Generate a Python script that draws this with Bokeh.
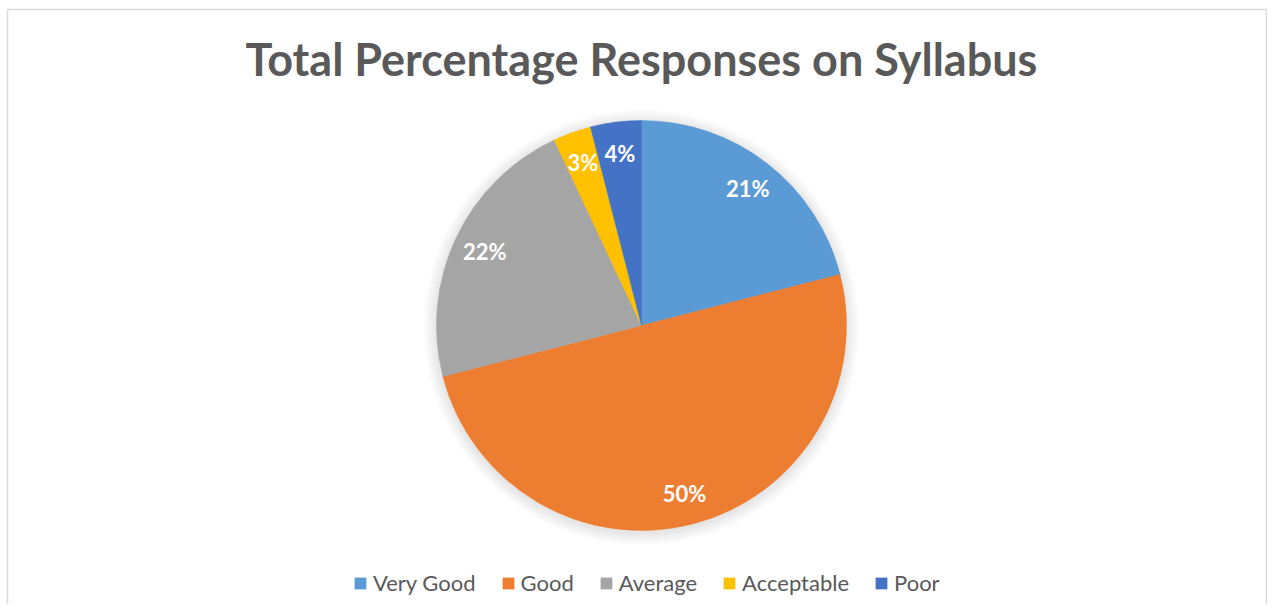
import math
from bokeh.plotting import figure
from bokeh.models import Legend, LegendItem, Range1d, ColumnDataSource
from bokeh.core.properties import value
from bokeh.embed import file_html
from bokeh.resources import INLINE

# ---- data ----
title_text = "Total Percentage Responses on Syllabus"
categories = ["Very Good", "Good", "Average", "Acceptable", "Poor"]
percentages = [21, 50, 22, 3, 4]
colors = ["#5B9BD5", "#ED7D31", "#A5A5A5", "#FFC000", "#4472C4"]

# ---- layout (pixel-like data units) ----
W, H = 1267, 604
CX, CY, R = 641, H - 325, 205
FONT = "Lato"

p = figure(width=W, height=H, output_backend="svg", toolbar_location=None,
           x_range=Range1d(0, W), y_range=Range1d(0, H),
           min_border=0, outline_line_color=None)
p.axis.visible = False
p.grid.visible = False
p.background_fill_color = "white"
p.border_fill_color = "white"

# chart frame
p.quad(left=[7], right=[W - 1], top=[H - 9], bottom=[-20],
       fill_color=None, line_color="#d9d9d9", line_width=1.5)

# soft shadow around pie
for i in range(1, 14):
    p.circle(x=[CX], y=[CY - 2], radius=R + i, fill_color="black",
             fill_alpha=0.009, line_color=None)

total = float(sum(percentages))
starts, ends, mids = [], [], []
cum = 0.0
for v in percentages:
    f0 = cum / total
    f1 = (cum + v) / total
    starts.append(math.pi / 2 - f0 * 2 * math.pi)
    ends.append(math.pi / 2 - f1 * 2 * math.pi)
    mids.append(math.pi / 2 - (f0 + f1) / 2 * 2 * math.pi)
    cum += v

renderers = []
for i, cat in enumerate(categories):
    r = p.wedge(x=CX, y=CY, radius=R, start_angle=starts[i], end_angle=ends[i],
                direction="clock", fill_color=colors[i], line_color=colors[i],
                line_width=0.5)
    renderers.append(r)

lab_r = 0.845 * R
src = ColumnDataSource(dict(
    x=[CX + lab_r * math.cos(a) for a in mids],
    y=[CY + lab_r * math.sin(a) for a in mids],
    t=["%d%%" % v for v in percentages],
))
p.text(x="x", y="y", text="t", source=src, text_color="white",
       text_font=value(FONT), text_font_style="bold", text_font_size="22px",
       text_align="center", text_baseline="middle")

# title
p.text(x=[CX], y=[H - 58], text=[title_text], text_color="#595959",
       text_font=value(FONT), text_font_style="bold", text_font_size="45px",
       text_align="center", text_baseline="middle")

legend = Legend(items=[LegendItem(label=c, renderers=[r]) for c, r in zip(categories, renderers)],
                orientation="horizontal", location=(353, 8),
                glyph_width=14, glyph_height=14, label_standoff=6, spacing=25,
                padding=0, margin=0, border_line_color=None,
                background_fill_alpha=0,
                label_text_font=FONT, label_text_font_size="22px",
                label_text_color="#595959")
p.add_layout(legend)

open("out.html", "w").write(file_html(p, INLINE))
